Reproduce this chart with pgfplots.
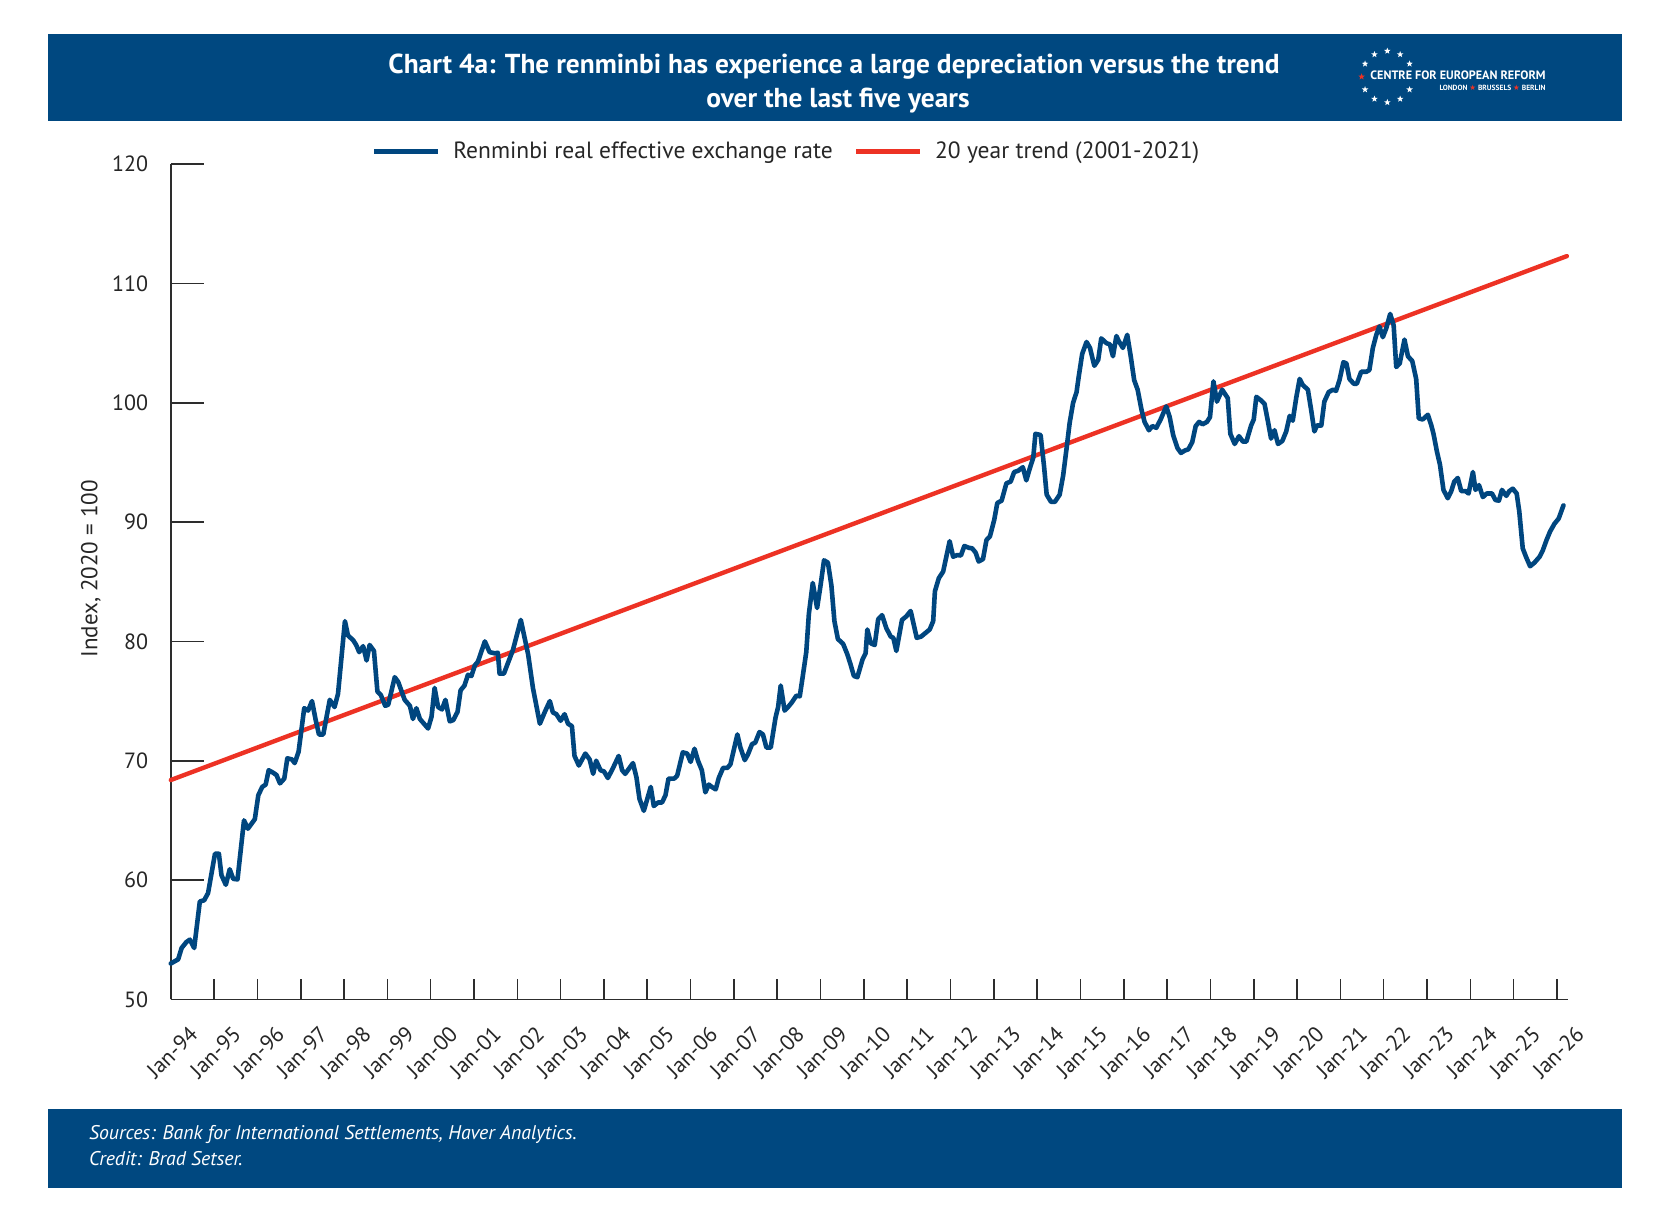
\documentclass[border=0pt]{standalone}
\usepackage{pgfplots}
\pgfplotsset{compat=1.18}
\usepackage{pgfplotstable}
\usepackage{fontspec}
\setmainfont{PT Sans}
\newfontfamily\dejavu{DejaVu Sans}
\usetikzlibrary{shapes.geometric}
\definecolor{cerblue}{RGB}{0,72,128}
\definecolor{lineblue}{RGB}{0,70,127}
\definecolor{trendred}{RGB}{237,50,36}
\definecolor{axgray}{RGB}{45,45,45}

\pgfplotstableread{
x y
1994.00 53.0
1994.17 53.35
1994.25 54.3
1994.36 54.8
1994.44 55.0
1994.54 54.3
1994.67 58.2
1994.77 58.3
1994.86 58.9
1995.02 62.2
1995.11 62.2
1995.17 60.4
1995.27 59.6
1995.36 60.9
1995.44 60.1
1995.54 60.05
1995.69 65.0
1995.78 64.3
1995.94 65.1
1996.02 67.1
1996.11 67.8
1996.19 68.0
1996.26 69.2
1996.36 69.0
1996.44 68.8
1996.52 68.1
1996.62 68.5
1996.69 70.2
1996.80 70.1
1996.86 69.8
1996.95 70.75
1997.08 74.4
1997.17 74.2
1997.26 75.0
1997.34 73.5
1997.42 72.2
1997.52 72.2
1997.67 75.1
1997.78 74.5
1997.86 75.6
1998.02 81.7
1998.09 80.5
1998.21 80.1
1998.28 79.7
1998.35 79.1
1998.44 79.6
1998.52 78.4
1998.59 79.7
1998.69 79.2
1998.77 75.8
1998.85 75.5
1998.95 74.6
1999.02 74.7
1999.17 77.0
1999.25 76.6
1999.40 75.1
1999.52 74.6
1999.59 73.5
1999.67 74.4
1999.75 73.5
1999.94 72.7
2000.02 73.7
2000.09 76.1
2000.17 74.5
2000.26 74.3
2000.34 75.1
2000.44 73.3
2000.52 73.4
2000.62 74.1
2000.69 75.9
2000.78 76.3
2000.86 77.2
2000.94 77.1
2001.02 78.0
2001.09 78.3
2001.25 80.0
2001.36 79.1
2001.48 79.0
2001.55 79.05
2001.59 77.3
2001.69 77.3
2001.90 79.3
2002.08 81.8
2002.25 78.9
2002.36 76.1
2002.52 73.1
2002.63 74.05
2002.75 75.0
2002.82 74.05
2002.90 73.9
2003.00 73.35
2003.09 73.9
2003.17 73.1
2003.26 72.9
2003.32 70.4
2003.42 69.6
2003.57 70.6
2003.67 70.1
2003.75 68.9
2003.82 70.0
2003.92 69.2
2004.00 69.1
2004.09 68.55
2004.21 69.4
2004.34 70.4
2004.42 69.2
2004.49 68.9
2004.67 69.8
2004.75 68.6
2004.82 66.8
2004.92 65.8
2005.08 67.8
2005.15 66.2
2005.25 66.5
2005.34 66.5
2005.42 67.1
2005.49 68.5
2005.62 68.5
2005.69 68.75
2005.82 70.7
2005.92 70.6
2006.00 69.9
2006.09 71.0
2006.17 70.0
2006.26 69.2
2006.34 67.35
2006.42 68.0
2006.49 67.8
2006.58 67.6
2006.65 68.55
2006.75 69.4
2006.85 69.4
2006.92 69.7
2007.08 72.2
2007.15 71.1
2007.25 70.05
2007.32 70.5
2007.42 71.4
2007.49 71.5
2007.59 72.4
2007.67 72.2
2007.75 71.1
2007.85 71.1
2007.96 73.6
2008.02 74.5
2008.08 76.3
2008.17 74.2
2008.25 74.5
2008.34 74.9
2008.44 75.45
2008.52 75.4
2008.59 77.1
2008.67 79.1
2008.73 82.3
2008.82 84.9
2008.92 82.8
2009.00 84.7
2009.08 86.8
2009.17 86.6
2009.25 84.7
2009.32 81.7
2009.40 80.2
2009.52 79.8
2009.62 78.9
2009.69 78.1
2009.77 77.1
2009.85 77.0
2009.97 78.5
2010.04 79.0
2010.08 81.0
2010.16 79.84
2010.25 79.7
2010.33 81.85
2010.42 82.2
2010.52 81.1
2010.62 80.4
2010.68 80.3
2010.75 79.2
2010.88 81.8
2010.98 82.1
2011.08 82.55
2011.22 80.3
2011.32 80.4
2011.42 80.7
2011.52 81.0
2011.60 81.7
2011.64 84.2
2011.73 85.3
2011.83 85.85
2011.98 88.4
2012.06 87.1
2012.16 87.24
2012.24 87.2
2012.32 88.0
2012.42 87.85
2012.50 87.8
2012.58 87.44
2012.65 86.7
2012.75 86.9
2012.83 88.5
2012.91 88.8
2013.01 90.2
2013.08 91.6
2013.18 91.8
2013.29 93.25
2013.39 93.4
2013.47 94.2
2013.56 94.3
2013.67 94.6
2013.75 93.5
2013.83 94.5
2013.91 95.4
2013.96 97.4
2014.08 97.3
2014.16 94.65
2014.22 92.3
2014.32 91.7
2014.41 91.7
2014.52 92.3
2014.60 93.9
2014.68 96.2
2014.75 98.3
2014.83 100.0
2014.91 100.9
2014.96 102.2
2015.04 104.1
2015.14 105.1
2015.22 104.6
2015.32 103.1
2015.41 103.6
2015.48 105.4
2015.60 105.0
2015.68 104.9
2015.75 103.9
2015.83 105.6
2015.88 105.2
2015.98 104.6
2016.08 105.7
2016.16 103.9
2016.24 101.9
2016.32 101.1
2016.41 99.4
2016.48 98.4
2016.58 97.7
2016.66 98.05
2016.75 97.9
2016.85 98.6
2016.98 99.7
2017.06 98.8
2017.14 97.3
2017.24 96.2
2017.32 95.8
2017.41 96.0
2017.49 96.1
2017.58 96.7
2017.66 98.05
2017.74 98.4
2017.82 98.2
2017.92 98.4
2017.99 98.8
2018.07 101.8
2018.15 100.1
2018.27 101.1
2018.40 100.4
2018.46 97.4
2018.56 96.55
2018.66 97.2
2018.75 96.75
2018.83 96.75
2018.94 98.1
2019.00 98.6
2019.06 100.5
2019.17 100.2
2019.25 99.9
2019.33 98.4
2019.40 97.0
2019.48 97.7
2019.56 96.55
2019.66 96.8
2019.75 97.6
2019.83 98.9
2019.90 98.5
2019.98 100.4
2020.06 102.0
2020.13 101.5
2020.25 101.1
2020.33 99.3
2020.40 97.6
2020.46 98.1
2020.56 98.1
2020.63 100.1
2020.73 100.9
2020.83 101.1
2020.90 101.0
2020.98 101.9
2021.07 103.4
2021.14 103.3
2021.21 102.0
2021.31 101.6
2021.38 101.6
2021.48 102.6
2021.60 102.6
2021.67 102.75
2021.75 104.6
2021.83 105.7
2021.90 106.4
2021.98 105.5
2022.06 106.25
2022.15 107.45
2022.23 106.5
2022.29 103.0
2022.37 103.3
2022.48 105.3
2022.56 103.9
2022.66 103.5
2022.75 102.0
2022.81 98.7
2022.90 98.6
2023.02 99.0
2023.10 98.1
2023.15 97.4
2023.23 95.9
2023.30 94.8
2023.38 92.7
2023.48 92.0
2023.56 92.6
2023.63 93.4
2023.71 93.7
2023.79 92.6
2023.89 92.6
2023.96 92.4
2024.06 94.2
2024.12 92.7
2024.20 93.1
2024.29 92.1
2024.38 92.4
2024.50 92.4
2024.58 91.85
2024.66 91.8
2024.73 92.7
2024.83 92.2
2024.90 92.6
2024.98 92.8
2025.07 92.4
2025.13 90.9
2025.21 87.8
2025.29 87.05
2025.38 86.3
2025.48 86.6
2025.60 87.1
2025.67 87.6
2025.76 88.5
2025.84 89.2
2025.94 89.85
2026.04 90.3
2026.15 91.4
}\reer

\pgfplotstableread{
x y
1994.00 68.38
2026.23 112.3
}\trend

\begin{document}
\begin{tikzpicture}
\begin{scope}[x=0.5pt,y=-0.5pt]
\fill[white] (0,0) rectangle (1676,1220);
\fill[cerblue] (48,34) rectangle (1622,121);
\fill[cerblue] (48,1109) rectangle (1622,1187.5);
% title
\node[text=white, font=\bfseries\fontsize{13.7}{16}\selectfont, anchor=base, inner sep=0pt] at (834,74) {Chart 4a: The renminbi has experience a large depreciation versus the trend};
\node[text=white, font=\bfseries\fontsize{13.7}{16}\selectfont, anchor=base, inner sep=0pt] at (838,107.3) {over the last five years};
% logo
\foreach \a in {30,60,90,120,150,210,240,270,300,330}{
  \node[star, star points=5, star point ratio=2.4, fill=white, inner sep=0pt, minimum size=3.4pt] at ({1387.3+25.7*cos(\a)},{76.7-25.7*sin(\a)}) {};
}
\node[star, star points=5, star point ratio=2.4, fill=trendred, inner sep=0pt, minimum size=3.4pt] at (1361.6,76.7) {};
\node[anchor=base east, inner sep=0pt, text=white] at (1546,79.6) {\resizebox{87.6pt}{!}{\bfseries CENTRE FOR EUROPEAN REFORM}};
\node[anchor=base east, inner sep=0pt, text=white] at (1546,90.5) {\resizebox{53pt}{!}{\bfseries LONDON {\dejavu\color{trendred}★} BRUSSELS {\dejavu\color{trendred}★} BERLIN}};
% footer
\node[text=white, font=\itshape\fontsize{9.9}{12}\selectfont, anchor=base west, inner sep=0pt] at (88.7,1139) {Sources: Bank for International Settlements, Haver Analytics.};
\node[text=white, font=\itshape\fontsize{9.9}{12}\selectfont, anchor=base west, inner sep=0pt] at (88.7,1165.7) {Credit: Brad Setser.};
% y label
\node[rotate=90, font=\fontsize{11.5}{13}\selectfont, inner sep=0pt, text=black!85] at (91,568.8) {Index, 2020 = 100};
\end{scope}

\begin{axis}[
  at={(85.4pt,-499.65pt)}, anchor=south west,
  scale only axis, width=698.7pt, height=417.55pt,
  xmin=1994, xmax=2026.26, ymin=50, ymax=120,
  axis y line=left, axis x line=none,
  axis line style={axgray, line width=0.8pt, -},
  ytick={50,60,70,80,90,100,110,120},
  yticklabels={50,60,70,80,90,100,110,120},
  tick align=inside, major tick length=16.7pt,
  ytick style={axgray, line width=0.8pt},
  yticklabel style={font=\fontsize{11}{13}\selectfont, text=black!85, inner sep=0pt, anchor=east, xshift=-11.2pt},
  clip=false,
  legend columns=2,
  legend cell align=left,
  legend image code/.code={\draw[#1] (0pt,0pt) -- (32pt,0pt);},
  legend style={at={(0.1438,1.0152)}, anchor=west, draw=none, fill=none, inner sep=0pt,
    font=\fontsize{11.75}{13}\selectfont, text=black!85,
    nodes={inner sep=0pt},
    /tikz/every odd column/.append style={column sep=6.3pt},
    /tikz/every even column/.append style={column sep=10.6pt}},
]
\addlegendimage{lineblue, line width=2.3pt}
\addlegendentry{Renminbi real effective exchange rate}
\addlegendimage{trendred, line width=2.3pt}
\addlegendentry{20 year trend (2001-2021)}
\addplot[trendred, line width=2.2pt, line cap=round, forget plot] table[x=x,y=y] {\trend};
\addplot[lineblue, line width=2.3pt, line join=round, line cap=round, forget plot] table[x=x,y=y] {\reer};
\end{axis}

\begin{axis}[
  at={(85.4pt,-499.65pt)}, anchor=south west,
  scale only axis, width=698.7pt, height=417.55pt,
  xmin=1994, xmax=2026.26, ymin=50, ymax=120,
  axis x line=bottom, axis y line=none,
  axis line style={axgray, line width=0.8pt, -},
  xtick={1994,1995,...,2026},
  xticklabels={Jan-94,Jan-95,Jan-96,Jan-97,Jan-98,Jan-99,Jan-00,Jan-01,Jan-02,Jan-03,Jan-04,Jan-05,Jan-06,Jan-07,Jan-08,Jan-09,Jan-10,Jan-11,Jan-12,Jan-13,Jan-14,Jan-15,Jan-16,Jan-17,Jan-18,Jan-19,Jan-20,Jan-21,Jan-22,Jan-23,Jan-24,Jan-25,Jan-26},
  tick align=inside, major tick length=10pt,
  xtick style={axgray, line width=0.8pt},
  xticklabel style={font=\fontsize{11}{12}\selectfont, text=black!85, inner sep=0pt, xshift=8.6pt, yshift=-12.5pt, rotate=45, anchor=north east},
]
\end{axis}
\end{tikzpicture}
\end{document}
